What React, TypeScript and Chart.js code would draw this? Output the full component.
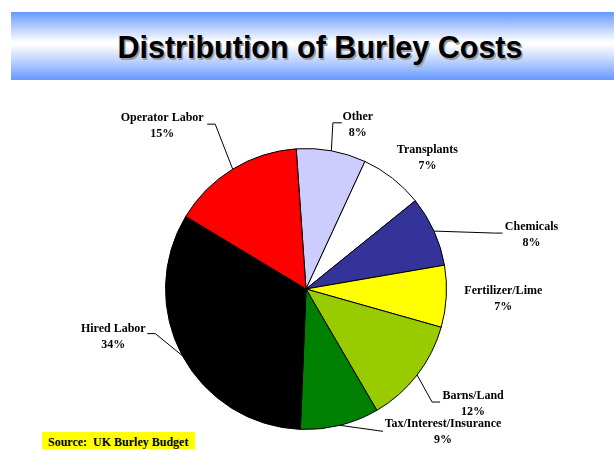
import React, { useEffect, useRef } from "react";
import { Chart, registerables } from "chart.js";

Chart.register(...registerables);

const categories = [
  "Other",
  "Transplants",
  "Chemicals",
  "Fertilizer/Lime",
  "Barns/Land",
  "Tax/Interest/Insurance",
  "Hired Labor",
  "Operator Labor",
];
// slice sizes as drawn (percent of total)
const shares = [8.0, 7.3, 8.1, 7.1, 12.2, 9.05, 33.0, 15.25];
// percentage labels as printed on the chart
const percentLabels = ["8%", "7%", "8%", "7%", "12%", "9%", "34%", "15%"];
const sliceColors = [
  "#CCCCFF",
  "#FFFFFF",
  "#333399",
  "#FFFF00",
  "#99CC00",
  "#008000",
  "#000000",
  "#FF0000",
];
const titleText = "Distribution of Burley Costs";
const sourceText = "Source:  UK Burley Budget";

// Label layout relative to the slice's outer-edge midpoint
const labelLayout: { text: [number, number]; leader: [number, number][] }[] = [
  { text: [26.5, -34], leader: [[1.5, -28], [10.5, -28]] },
  { text: [35, -28], leader: [] },
  { text: [97.5, -4], leader: [[60.5, 2], [68.5, 2]] },
  { text: [57, -5], leader: [] },
  { text: [56, 21], leader: [[15, 27], [23, 27]] },
  { text: [103, -1], leader: [[43, 6]] },
  { text: [-69, -27], leader: [[-27, -22], [-35, -22]] },
  { text: [-70.5, -51], leader: [[-17.5, -45], [-25.5, -45]] },
];

const labelPlugin = {
  id: "sliceLabels",
  afterDatasetsDraw(chart: any) {
    const ctx = chart.ctx;
    const meta = chart.getDatasetMeta(0);
    ctx.save();
    ctx.font = "bold 12px 'Liberation Serif', 'Times New Roman', serif";
    ctx.textAlign = "center";
    ctx.textBaseline = "middle";
    meta.data.forEach((arc: any, i: number) => {
      const p = arc.getProps(["x", "y", "startAngle", "endAngle", "outerRadius"], true);
      const mid = (p.startAngle + p.endAngle) / 2;
      const ex = p.x + Math.cos(mid) * p.outerRadius;
      const ey = p.y + Math.sin(mid) * p.outerRadius;
      const lay = labelLayout[i];
      if (lay.leader.length) {
        ctx.beginPath();
        ctx.strokeStyle = "#000";
        ctx.lineWidth = 1;
        ctx.moveTo(ex, ey);
        lay.leader.forEach(([dx, dy]) => ctx.lineTo(ex + dx, ey + dy));
        ctx.stroke();
      }
      ctx.fillStyle = "#000";
      const tx = ex + lay.text[0];
      const ty = ey + lay.text[1];
      ctx.fillText(categories[i], tx, ty);
      ctx.fillText(percentLabels[i], tx, ty + 16);
    });
    ctx.restore();
  },
};

export default function App() {
  const ref = useRef<HTMLCanvasElement>(null);
  useEffect(() => {
    if (!ref.current) return;
    const chart = new Chart(ref.current, {
      type: "pie",
      data: {
        labels: categories,
        datasets: [
          {
            data: shares,
            backgroundColor: sliceColors,
            borderColor: "#000000",
            borderWidth: 1,
          },
        ],
      },
      options: {
        responsive: false,
        animation: false,
        devicePixelRatio: 1,
        rotation: -4,
        layout: { padding: { top: 148, bottom: 19, left: 100, right: 102 } },
        plugins: {
          legend: { display: false },
          tooltip: { enabled: false },
          title: { display: false },
        },
      },
      plugins: [labelPlugin],
    });
    return () => chart.destroy();
  }, []);

  return (
    <div
      style={{
        position: "fixed",
        left: 0,
        top: 0,
        width: 614,
        height: 449,
        background: "#fff",
        overflow: "hidden",
      }}
    >
      <div
        style={{
          position: "absolute",
          left: 11,
          top: 12,
          width: 603,
          height: 68,
          background:
            "linear-gradient(to bottom, #6699FF 0%, #B3CCFF 22%, #FFFFFF 44%, #FFFFFF 48%, #B3CCFF 75%, #6699FF 100%)",
        }}
      />
      <div
        style={{
          position: "absolute",
          left: 0,
          top: 13,
          width: 640,
          height: 68,
          lineHeight: "68px",
          textAlign: "center",
          fontFamily: "'Liberation Sans', Arial, sans-serif",
          fontWeight: "bold",
          fontSize: 30.5,
          color: "#000",
          textShadow: "1.5px 1.5px 0 #9a9a9a",
          whiteSpace: "nowrap",
        }}
      >
        {titleText}
      </div>
      <canvas
        ref={ref}
        width={614}
        height={449}
        style={{ position: "absolute", left: 0, top: 0, width: 614, height: 449 }}
      />
      <div
        style={{
          position: "absolute",
          left: 42,
          top: 432,
          width: 153,
          height: 20,
          background: "#FFFF00",
          fontFamily: "'Liberation Serif', 'Times New Roman', serif",
          fontWeight: "bold",
          fontSize: 12,
          lineHeight: "20px",
          paddingLeft: 6,
          boxSizing: "border-box",
          whiteSpace: "pre",
          color: "#000",
        }}
      >
        {sourceText}
      </div>
    </div>
  );
}
